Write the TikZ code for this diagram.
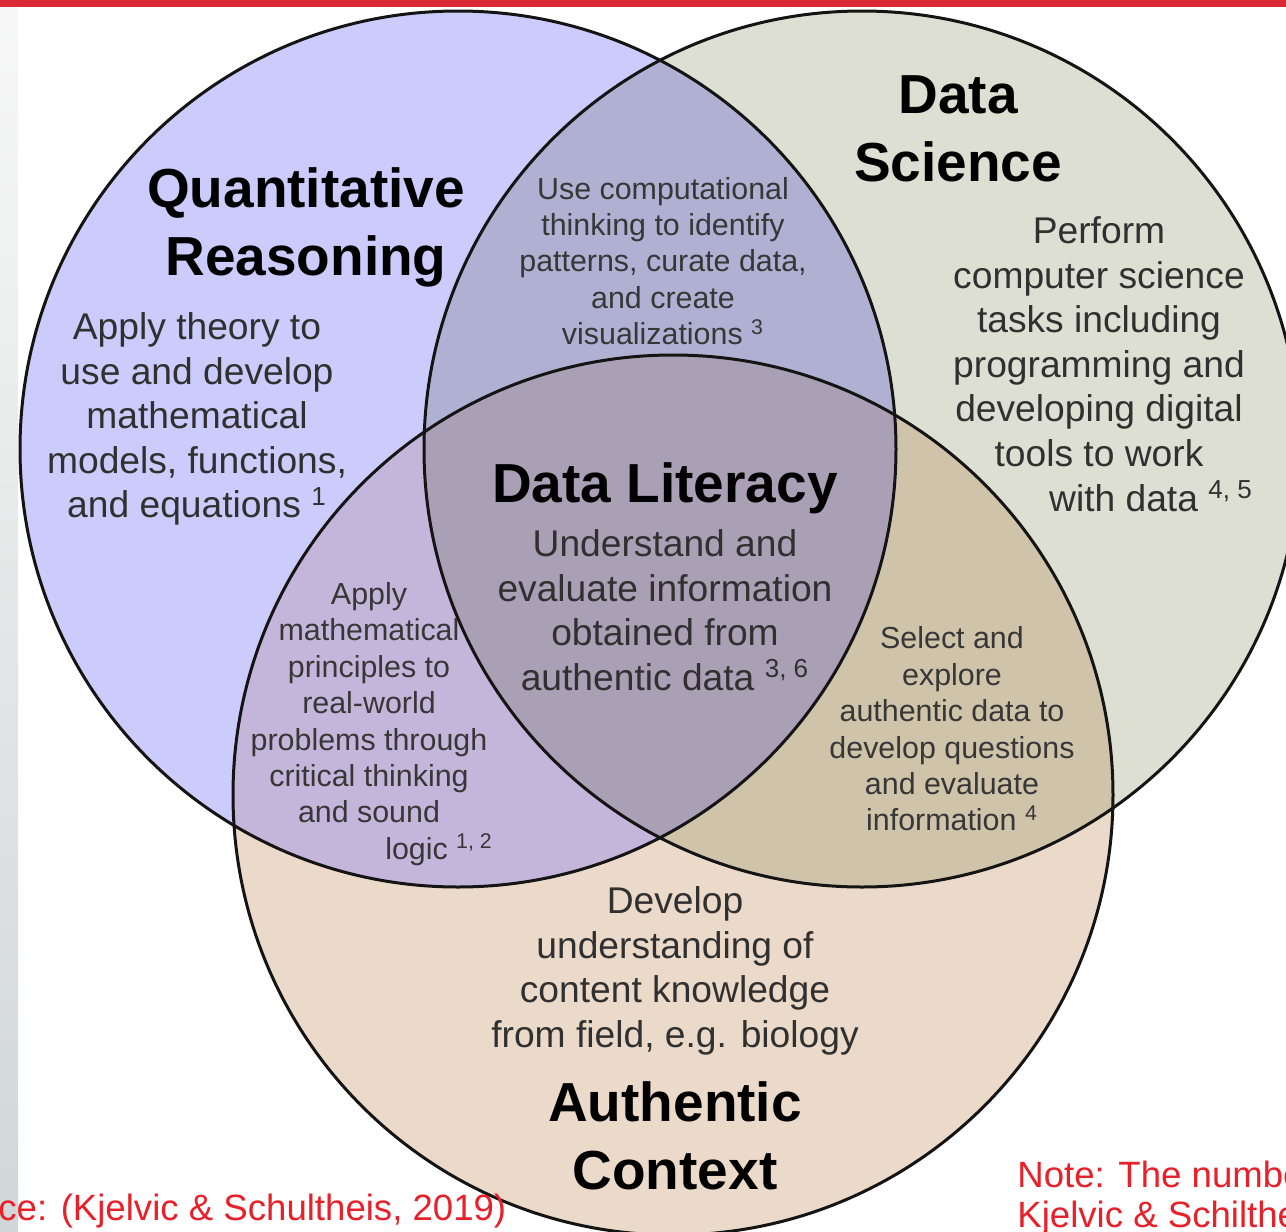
\documentclass[tikz,border=0pt]{standalone}
\usepackage{fontspec}
\setmainfont{Liberation Sans}
\usetikzlibrary{positioning}

\definecolor{ink}      {HTML}{141414}
\definecolor{quant}    {RGB}{204,204,252}
\definecolor{dsci}     {RGB}{222,223,211}
\definecolor{ctx}      {RGB}{235,218,202}
\definecolor{quantdsci}{RGB}{176,177,210}
\definecolor{quantctx} {RGB}{196,182,218}
\definecolor{dscictx}  {RGB}{207,195,170}
\definecolor{literacy} {RGB}{170,160,182}
\definecolor{slidered} {RGB}{218,41,52}
\definecolor{notered}  {RGB}{232,32,42}

\tikzset{
  % --- text
  head/.style = {align=center, inner sep=0pt, text=black,
                 font=\fontsize{27.5}{34}\selectfont\bfseries},
  txt/.style  = {align=center, inner sep=0pt, text=ink!88,
                 font=\fontsize{18.6}{22.3}\selectfont},
  sm/.style   = {align=center, inner sep=0pt, text=ink!85,
                 font=\fontsize{15.2}{18.2}\selectfont},
  note/.style = {align=left, inner sep=0pt, text=notered, anchor=base west,
                 font=\fontsize{18.3}{20}\selectfont},
  % --- rings
  ring/.style = {draw=ink, line width=1.5pt},
}

\begin{document}
\begin{tikzpicture}[x=0.5pt, y=-0.5pt]
  \clip (0,0) rectangle (1286,1232);
  \fill[white] (0,0) rectangle (1286,1232);
  \shade[top color=gray!6, bottom color=teal!14!gray!32] (0,7) rectangle (18,1232);
  \fill[slidered] (0,0) rectangle (1286,7);

  \coordinate (qr) at (458,449);
  \coordinate (ds) at (862,449);
  \coordinate (ac) at (673,795);

  % plain fills
  \fill[quant] (qr) circle (438);
  \fill[dsci]  (ds) circle (438);
  \fill[ctx]   (ac) circle (440);

  % overlaps
  \begin{scope}
    \clip (qr) circle (438);
    \fill[quantdsci] (ds) circle (438);
    \fill[quantctx]  (ac) circle (440);
  \end{scope}
  \begin{scope}
    \clip (ds) circle (438);
    \fill[dscictx] (ac) circle (440);
  \end{scope}
  \begin{scope}
    \clip (qr) circle (438);
    \clip (ds) circle (438);
    \fill[literacy] (ac) circle (440);
  \end{scope}

  \draw[ring] (qr) circle (438);
  \draw[ring] (ds) circle (438);
  \draw[ring] (ac) circle (440);

  % Quantitative Reasoning
  \node[head] (qrhead) at (306,227) {Quantitative\\Reasoning};
  \node[txt]  (qrtxt)  at (197,419) {Apply theory to\\use and develop\\mathematical\\models, functions,\\and equations \textsuperscript{1}};

  % Data Science
  \node[head] (dshead) at (958,129) {Data\\Science};
  \node[txt]  (dstxt)  at (1099,364) {Perform\\computer science\\tasks including\\programming and\\developing digital\\tools to work\\\hspace*{52pt}with data \textsuperscript{4, 5}};

  % Authentic Context
  \node[txt]  (acttxt)  at (675,971) {Develop\\understanding of\\content knowledge\\from field, e.g. biology};
  \node[head] (acthead) at (675,1136) {Authentic\\Context};

  % overlaps
  \node[sm] (qrds) at (663,261) {Use computational\\thinking to identify\\patterns, curate data,\\and create\\visualizations \textsuperscript{3}};
  \node[sm] (qrac) at (369,724) {Apply\\mathematical\\principles to\\real-world\\problems through\\critical thinking\\and sound\\\hspace*{70pt}logic \textsuperscript{1, 2}};
  \node[sm] (dsac) at (952,729) {Select and\\explore\\authentic data to\\develop questions\\and evaluate\\information \textsuperscript{4}};

  % Data Literacy
  \node[head] (lithead) at (665,488) {Data Literacy};
  \node[txt]  (littxt)  at (665,610) {Understand and\\evaluate information\\obtained from\\authentic data \textsuperscript{3, 6}};

  % slide notes
  \node[note] (src)  at (-2,1220) {ce: (Kjelvic \& Schultheis, 2019)};
  \node[note] (note) at (1017,1227) {Note: The numbe\\Kjelvic \& Schilthe};
\end{tikzpicture}
\end{document}
